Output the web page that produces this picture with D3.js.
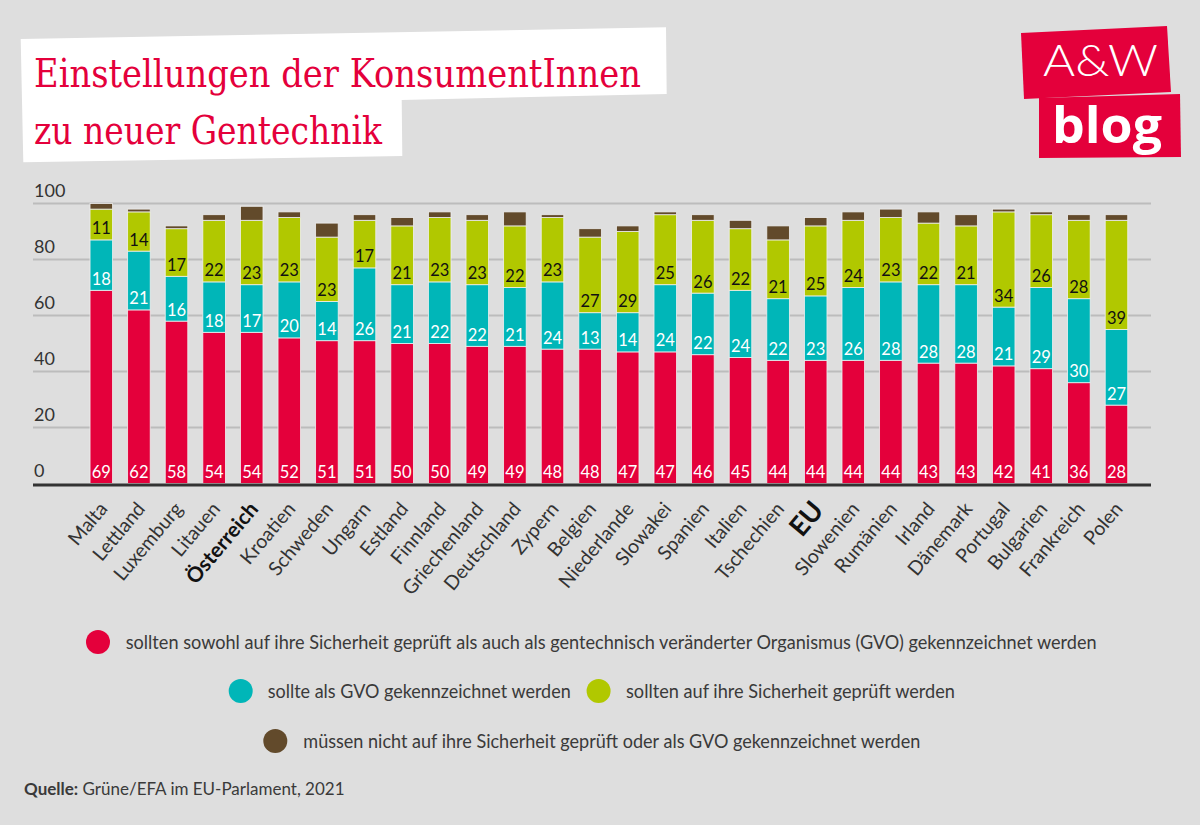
<!DOCTYPE html>
<html><head><meta charset="utf-8">
<script src="https://cdn.jsdelivr.net/npm/d3@7"></script>
<style>
html,body{margin:0;padding:0;background:#dedede;}
svg{display:block;}
</style></head>
<body>
<svg id="chart" width="1200" height="825"></svg>
<script>
const categories = ["Malta","Lettland","Luxemburg","Litauen","Österreich","Kroatien","Schweden","Ungarn","Estland","Finnland","Griechenland","Deutschland","Zypern","Belgien","Niederlande","Slowakei","Spanien","Italien","Tschechien","EU","Slowenien","Rumänien","Irland","Dänemark","Portugal","Bulgarien","Frankreich","Polen"];
const highlighted = ["Österreich","EU"];
const bothValues   = [69,62,58,54,54,52,51,51,50,50,49,49,48,48,47,47,46,45,44,44,44,44,43,43,42,41,36,28];
const gvoValues    = [18,21,16,18,17,20,14,26,21,22,22,21,24,13,14,24,22,24,22,23,26,28,28,28,21,29,30,27];
const safetyValues = [11,14,17,22,23,23,23,17,21,23,23,22,23,27,29,25,26,22,21,25,24,23,22,21,34,26,28,39];
const noneValues   = [2,1,1,2,5,2,5,2,3,2,2,5,1,3,2,1,2,3,5,3,3,3,4,4,1,1,2,2];
const yTicks = [0,20,40,60,80,100];
const seriesKeys = ["both","gvo","safety","none"];
const seriesLabels = [
  "sollten sowohl auf ihre Sicherheit geprüft als auch als gentechnisch veränderter Organismus (GVO) gekennzeichnet werden",
  "sollte als GVO gekennzeichnet werden",
  "sollten auf ihre Sicherheit geprüft werden",
  "müssen nicht auf ihre Sicherheit geprüft oder als GVO gekennzeichnet werden"
];
const titleLines = ["Einstellungen der KonsumentInnen","zu neuer Gentechnik"];

const colors = {both:"#e4003b", gvo:"#00b6b8", safety:"#b1c800", none:"#624a2b"};
const labelColors = {both:"#ffffff", gvo:"#ffffff", safety:"#111111", none:null};
const FONT = "Lato, 'Open Sans', sans-serif";

const rows = categories.map((c,i)=>({cat:c, both:bothValues[i], gvo:gvoValues[i], safety:safetyValues[i], none:noneValues[i]}));
const stack = d3.stack().keys(seriesKeys)(rows);

const svg = d3.select("#chart");

// Title box
svg.append("path")
  .attr("d","M20.7,39 L666,27.3 L666.7,94 L401.7,100 L402.3,156 L23.3,162.3 Z")
  .attr("fill","#ffffff");
const titleWidths = [607, 348];
titleLines.forEach((t,i)=>{
  svg.append("text").attr("x",34).attr("y", i===0 ? 87 : 144)
    .attr("font-family","'DejaVu Serif', 'Liberation Serif', serif")
    .attr("font-size", 39).attr("fill","#e4003b")
    .attr("textLength", titleWidths[i]).attr("lengthAdjust","spacingAndGlyphs")
    .text(t);
});

// Logo
svg.append("path").attr("d","M1021,33 L1167,26 L1171,92 L1024,99 Z").attr("fill","#e4003b");
svg.append("path").attr("d","M1039,98 L1180,94 L1181,157 L1039,158 Z").attr("fill","#e4003b");
svg.append("text").attr("x",1043).attr("y",76).attr("font-family","Lato, sans-serif").attr("font-weight",300)
  .attr("font-size",44).attr("fill","#fff").attr("textLength",115).attr("lengthAdjust","spacingAndGlyphs").text("A&W");
svg.append("text").attr("x",1052).attr("y",143).attr("font-family","'Open Sans', sans-serif").attr("font-weight",700)
  .attr("font-size",50).attr("fill","#fff").attr("textLength",110).attr("lengthAdjust","spacingAndGlyphs").text("blog");

// Scales
const x = d3.scaleBand().domain(categories).range([75, 1142.8]).padding(0.4);
const y = d3.scaleLinear().domain([0,100]).range([483.5, 203.5]);

// Gridlines
const grid = svg.append("g");
grid.selectAll("line").data(yTicks.filter(t=>t>0)).join("line")
  .attr("x1",33).attr("x2",1151).attr("y1",d=>y(d)).attr("y2",d=>y(d))
  .attr("stroke","#bcbcbc").attr("stroke-width",2);
grid.selectAll("text").data(yTicks).join("text")
  .attr("x",34).attr("y",d=>y(d)-6.5)
  .attr("font-family",FONT).attr("font-size",18).attr("fill","#333")
  .text(d=>d);

// Bars
const layers = svg.append("g").selectAll("g").data(stack).join("g")
  .attr("fill",d=>colors[d.key]);
layers.selectAll("rect").data(d=>d).join("rect")
  .attr("x",d=>x(d.data.cat)).attr("width",x.bandwidth())
  .attr("y",d=>y(d[1])).attr("height",d=>y(d[0])-y(d[1]))
  .attr("stroke","#efefef").attr("stroke-width",0.8);

// Labels
const lab = svg.append("g");
stack.filter(s=>labelColors[s.key]).forEach(s=>{
  lab.append("g").selectAll("text").data(s).join("text")
    .attr("x",d=>x(d.data.cat)+x.bandwidth()/2)
    .attr("y",d=>y(d[0])-5.5)
    .attr("text-anchor","middle")
    .attr("font-family",FONT).attr("font-size",16.5)
    .attr("fill",labelColors[s.key])
    .text(d=>d.data[s.key]);
});

// Axis baseline
svg.append("line").attr("x1",33).attr("x2",1151).attr("y1",485).attr("y2",485)
  .attr("stroke","#333").attr("stroke-width",3);

// X labels
svg.append("g").selectAll("text").data(categories).join("text")
  .attr("transform",d=>`translate(${x(d)+x.bandwidth()/2+2},${505}) rotate(-50)`)
  .attr("text-anchor","end")
  .attr("dy","0.35em")
  .attr("font-family",FONT)
  .attr("font-size",d=>d==="EU"?27:(d==="Österreich"?21:19.5))
  .attr("font-weight",d=>highlighted.includes(d)?700:400)
  .attr("fill",d=>highlighted.includes(d)?"#111":"#333")
  .text(d=>d);

// Legend
const legendItems = [
  {key:"both",   cx:98,    cy:642, tx:125.7, w:971},
  {key:"gvo",    cx:240.7, cy:691, tx:267.7, w:303},
  {key:"safety", cx:598.6, cy:691, tx:626,   w:329},
  {key:"none",   cx:275.3, cy:741, tx:303.3, w:617}
];
const lg = svg.append("g");
legendItems.forEach(it=>{
  const i = seriesKeys.indexOf(it.key);
  lg.append("circle").attr("cx",it.cx).attr("cy",it.cy).attr("r",12).attr("fill",colors[it.key]);
  lg.append("text").attr("x",it.tx).attr("y",it.cy+6.5)
    .attr("font-family",FONT).attr("font-size",18.5).attr("fill","#3a3a3a")
    .attr("textLength",it.w).attr("lengthAdjust","spacingAndGlyphs")
    .text(seriesLabels[i]);
});

// Source
const src = svg.append("text").attr("x",24).attr("y",795)
  .attr("font-family",FONT).attr("font-size",17).attr("fill","#3a3a3a");
src.append("tspan").attr("font-weight",700).text("Quelle:");
src.append("tspan").text(" Grüne/EFA im EU-Parlament, 2021");
</script>
</body></html>
